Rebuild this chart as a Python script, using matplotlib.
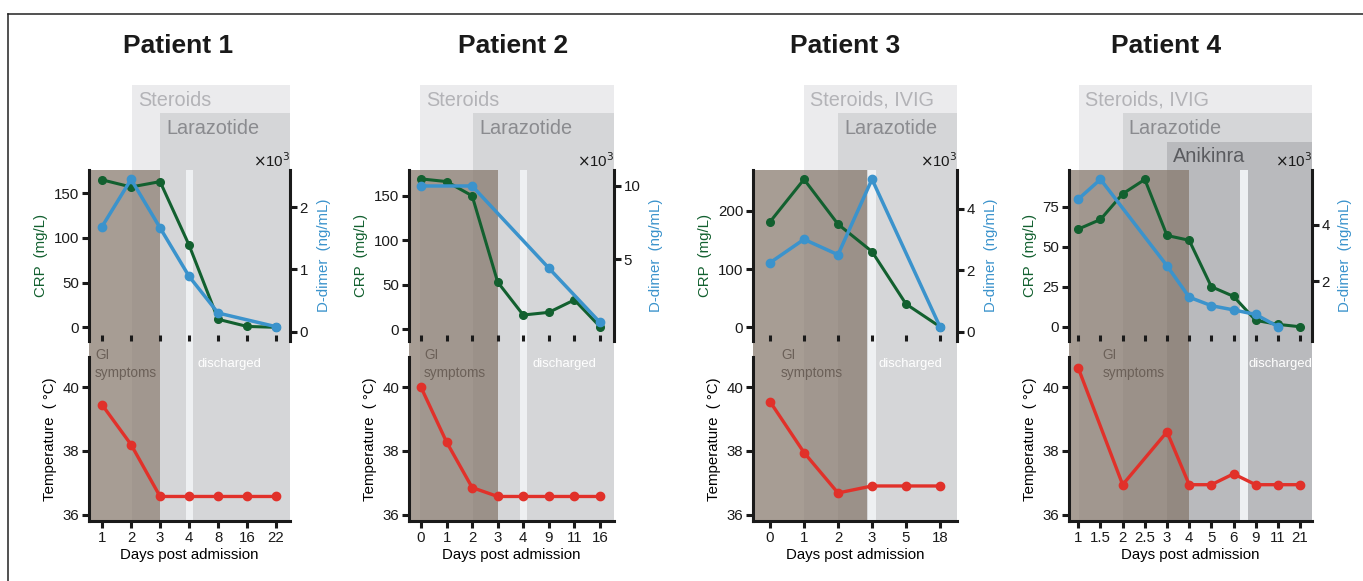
import numpy as np
import matplotlib
matplotlib.use('Agg')
import matplotlib.pyplot as plt
from matplotlib.patches import Rectangle
from matplotlib.lines import Line2D
from matplotlib.transforms import blended_transform_factory, offset_copy

plt.rcParams['font.family'] = ['Liberation Sans', 'DejaVu Sans']

# ---------------- data ----------------
p1_days = ['1', '2', '3', '4', '8', '16', '22']
p1_crp = [165, 157, 163, 92, 9, 1, 0]
p1_ddimer = [1690, 2450, 1670, 890, 300, np.nan, 80]
p1_temp = [39.45, 38.2, 36.57, 36.57, 36.57, 36.57, 36.57]

p2_days = ['0', '1', '2', '3', '4', '9', '11', '16']
p2_crp = [169, 166, 150, 53, 16, 19, 33, 3]
p2_ddimer = [10000, np.nan, 10000, np.nan, np.nan, 4400, np.nan, 700]
p2_temp = [40.0, 38.28, 36.85, 36.57, 36.57, 36.57, 36.57, 36.57]

p3_days = ['0', '1', '2', '3', '5', '18']
p3_crp = [181, 254, 177, 130, 40, 1]
p3_ddimer = [2240, 3000, 2500, 4950, np.nan, 160]
p3_temp = [39.55, 37.95, 36.68, 36.9, 36.9, 36.9]

p4_days = ['1', '1.5', '2', '2.5', '3', '4', '5', '6', '9', '11', '21']
p4_crp = [61, 67, 83, 92, 57, 54, 25, 19, 4, 1.5, 0]
p4_ddimer = [4900, 5600, np.nan, np.nan, 2540, 1430, 1130, 980, 820, 390, np.nan]
p4_temp = [40.6, np.nan, 36.94, np.nan, 38.6, 36.94, 36.94, 37.28, 36.94, 36.94, 36.94]

# treatments: (label, start position on the day axis)
p1_treatments = [('Steroids', 1.03), ('Larazotide', 2.0)]
p2_treatments = [('Steroids', -0.04), ('Larazotide', 2.03)]
p3_treatments = [('Steroids, IVIG', 1.0), ('Larazotide', 2.0)]
p4_treatments = [('Steroids, IVIG', 0.04), ('Larazotide', 2.0), ('Anikinra', 4.0)]

# GI symptoms end and discharge strip (positions on day axis)
p1_gi_end, p1_discharge = 2.0, (2.9, 3.14)
p2_gi_end, p2_discharge = 3.0, (3.87, 4.14)
p3_gi_end, p3_discharge = 2.85, (2.88, 3.12)
p4_gi_end, p4_discharge = 5.0, (7.3, 7.66)

# ---------------- styling / layout ----------------
W, H = 1363, 581
fig = plt.figure(figsize=(W / 100, H / 100), dpi=100)


def fx(px):
    return px / W


def fy(px):
    return 1 - px / H


GREEN = '#12602f'
BLUE = '#3b93cc'
RED = '#e1312a'
BROWN = (132 / 255, 118 / 255, 106 / 255)
BOX_COLORS = ['#ebebed', '#d5d6d8', '#b9babd']
BOX_TEXT = ['#b3b3b7', '#8a8b8f', '#5a5b5f']
BOX_TOPS = [85, 113, 142]
TOP_Y0, TOP_Y1 = 170, 341
BOT_Y0, BOT_Y1 = 357, 521
SPINE_W = 2.2
FS = 10.8

panels = [
    dict(title='Patient 1', days=p1_days, crp=p1_crp, dd=p1_ddimer, temp=p1_temp,
         treat=p1_treatments, gi=p1_gi_end, dis=p1_discharge,
         x0=89, x1=290, xlim=(-0.45, 6.48), crp_lim=(-15.3, 176), crp_ticks=[0, 50, 100, 150],
         dd_lim=(-0.15, 2.6), dd_ticks=[0, 1, 2], title_x=178.5, gi_x=-0.24, dis_x=3.28),
    dict(title='Patient 2', days=p2_days, crp=p2_crp, dd=p2_ddimer, temp=p2_temp,
         treat=p2_treatments, gi=p2_gi_end, dis=p2_discharge,
         x0=409, x1=614, xlim=(-0.47, 7.55), crp_lim=(-13.2, 179), crp_ticks=[0, 50, 100, 150],
         dd_lim=(-0.57, 11.09), dd_ticks=[5, 10], title_x=513, gi_x=0.12, dis_x=4.37),
    dict(title='Patient 3', days=p3_days, crp=p3_crp, dd=p3_ddimer, temp=p3_temp,
         treat=p3_treatments, gi=p3_gi_end, dis=p3_discharge,
         x0=753, x1=957, xlim=(-0.5, 5.5), crp_lim=(-23.5, 270), crp_ticks=[0, 100, 200],
         dd_lim=(-0.30, 5.25), dd_ticks=[0, 2, 4], title_x=845, gi_x=0.32, dis_x=3.2),
    dict(title='Patient 4', days=p4_days, crp=p4_crp, dd=p4_ddimer, temp=p4_temp,
         treat=p4_treatments, gi=p4_gi_end, dis=p4_discharge,
         x0=1069, x1=1312, xlim=(-0.42, 10.54), crp_lim=(-8.9, 97.9), crp_ticks=[0, 25, 50, 75],
         dd_lim=(-0.12, 5.93), dd_ticks=[2, 4], title_x=1166, gi_x=1.08, dis_x=7.66),
]


def style_axis(ax, spines):
    for s in ['top', 'right', 'left', 'bottom']:
        ax.spines[s].set_visible(s in spines)
        ax.spines[s].set_linewidth(SPINE_W)
        ax.spines[s].set_color('#1a1a1a')
    ax.tick_params(direction='out', length=5, width=SPINE_W, labelsize=FS, pad=2,
                   color='#1a1a1a', labelcolor='#1a1a1a')
    ax.set_facecolor('none')


for p in panels:
    n = len(p['days'])
    idx = np.arange(n)
    ax = fig.add_axes([fx(p['x0']), fy(TOP_Y1), fx(p['x1'] - p['x0']), (TOP_Y1 - TOP_Y0) / H])
    axb = fig.add_axes([fx(p['x0']), fy(BOT_Y1), fx(p['x1'] - p['x0']), (BOT_Y1 - BOT_Y0) / H])
    ax2 = ax.twinx()

    # --- top panel: CRP + D-dimer
    crp = np.array(p['crp'], dtype=float)
    dd = np.array(p['dd'], dtype=float) / 1000
    m = ~np.isnan(dd)
    ax.plot(idx, crp, '-o', color=GREEN, lw=2.2, ms=5.5, zorder=3)
    ax2.plot(idx[m], dd[m], '-o', color=BLUE, lw=2.5, ms=6, zorder=3)
    ax.set_xlim(*p['xlim'])
    ax.set_ylim(*p['crp_lim'])
    ax2.set_ylim(*p['dd_lim'])
    ax.set_yticks(p['crp_ticks'])
    ax2.set_yticks(p['dd_ticks'])
    ax2.set_yticklabels([str(t) for t in p['dd_ticks']])
    ax.set_xticks(idx)
    ax.set_xticklabels([''] * n)
    style_axis(ax, ['left'])
    style_axis(ax2, ['right'])
    ax.tick_params(axis='x', direction='in', length=4.3)
    ax.set_ylabel('CRP  (mg/L)', color=GREEN, fontsize=FS, labelpad=4)
    ax2.set_ylabel('D-dimer  (ng/mL)', color=BLUE, fontsize=FS, labelpad=6)
    ax2.text(1.0, 1.0, r'$\times$10$^3$', transform=ax2.transAxes, ha='right', va='bottom',
             fontsize=FS, color='#1a1a1a')

    # --- bottom panel: temperature
    temp = np.array(p['temp'], dtype=float)
    mt = ~np.isnan(temp)
    axb.plot(idx[mt], temp[mt], '-o', color=RED, lw=2.4, ms=6, zorder=3)
    axb.set_xlim(*p['xlim'])
    axb.set_ylim(35.8, 40.95)
    axb.set_yticks([36, 38, 40])
    axb.set_xticks(idx)
    axb.set_xticklabels(p['days'])
    style_axis(axb, ['left', 'bottom'])
    axb.set_ylabel('Temperature  ( °C)', fontsize=FS, labelpad=4)
    axb.set_xlabel('Days post admission', fontsize=FS, labelpad=2)

    # --- shading (x in data, y in figure)
    trans = blended_transform_factory(ax.transData, fig.transFigure)
    xr = p['xlim'][1]
    yb = fy(BOT_Y1)
    for lvl, (label, start) in enumerate(p['treat']):
        top = fy(BOX_TOPS[lvl])
        fig.add_artist(Rectangle((start, yb), xr - start, top - yb, transform=trans,
                                 facecolor=BOX_COLORS[lvl], edgecolor='none', zorder=-5 + lvl * 0.1))
        tt = offset_copy(trans, fig=fig, x=6, y=0, units='dots')
        fig.text(start, fy(BOX_TOPS[lvl] + 15), label, transform=tt, ha='left', va='center',
                 fontsize=14.3, color=BOX_TEXT[lvl], zorder=-4)
    # discharge strip
    s0, s1 = p['dis']
    fig.add_artist(Rectangle((s0, yb), s1 - s0, fy(TOP_Y0) - yb, transform=trans,
                             facecolor='#eef0f2', edgecolor='none', zorder=-4.5))
    # GI symptoms
    xl = p['xlim'][0]
    fig.add_artist(Rectangle((xl, yb), p['gi'] - xl, fy(TOP_Y0) - yb, transform=trans,
                             facecolor=BROWN, alpha=0.714, edgecolor='none', zorder=-4.4))
    fig.text(p['gi_x'], fy(364), 'GI\nsymptoms', transform=trans, ha='left', va='center',
             fontsize=9.8, color='#6b6058', linespacing=1.35, zorder=-4)
    fig.text(p['dis_x'], fy(363.5), 'discharged', transform=trans, ha='left', va='center',
             fontsize=9.4, color='white', zorder=-4)

    fig.text(fx(p['title_x']), fy(46), p['title'], ha='center', va='center',
             fontsize=19, fontweight='bold', color='#1a1a1a')

# frame lines
fig.add_artist(Line2D([fx(8), 1], [fy(14), fy(14)], transform=fig.transFigure, color='#222222', lw=1.1))
fig.add_artist(Line2D([fx(8), fx(8)], [fy(14), 0], transform=fig.transFigure, color='#222222', lw=1.1))

fig.savefig('out.png', dpi=100)
